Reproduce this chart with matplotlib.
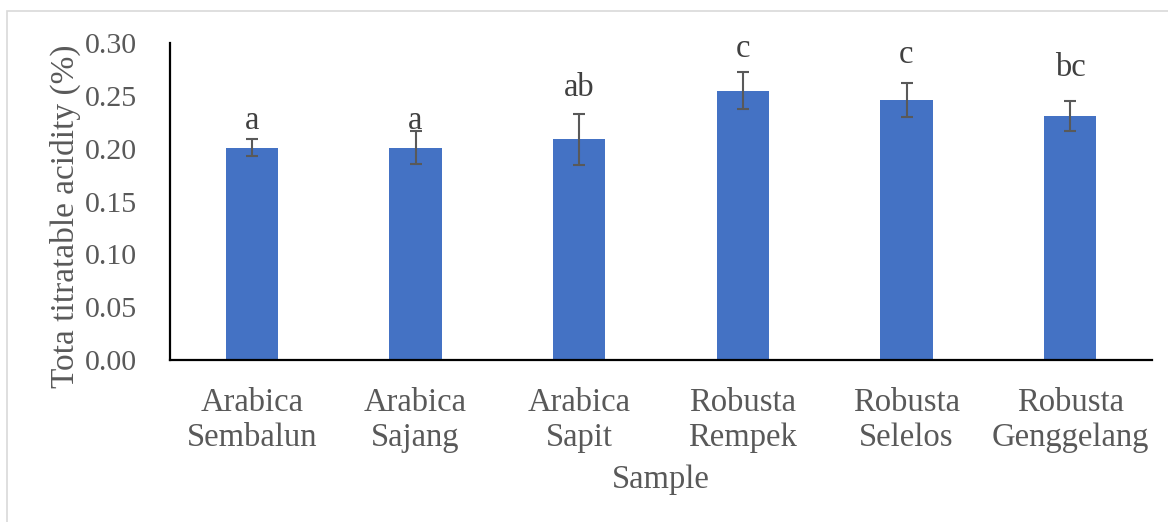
import matplotlib
matplotlib.use("Agg")
import matplotlib.pyplot as plt
from matplotlib.patches import Rectangle

# ---- data ----
categories = ["Arabica\nSembalun", "Arabica\nSajang", "Arabica\nSapit",
              "Robusta\nRempek", "Robusta\nSelelos", "Robusta\nGenggelang"]
acidity = [0.201, 0.201, 0.209, 0.255, 0.246, 0.231]
sd = [0.008, 0.0155, 0.024, 0.0175, 0.016, 0.0145]
letters = ["a", "a", "ab", "c", "c", "bc"]
y_ticks = [0.00, 0.05, 0.10, 0.15, 0.20, 0.25, 0.30]

# ---- layout (letter baseline heights, data units) ----
letter_y = [0.2186, 0.2186, 0.250, 0.2867, 0.281, 0.2688]

plt.rcParams['font.family'] = ['Liberation Serif', 'DejaVu Serif']
text_color = "#595959"

fig = plt.figure(figsize=(11.68, 5.22), dpi=100)
ax = fig.add_axes([170/1168, 1 - 360/522, (1152-170)/1168, (360-43)/522])

# light border of the chart area
fig.patches.append(Rectangle((7/1168, -0.1), 1.2, 1 - 11/522 + 0.1,
                             transform=fig.transFigure, fill=False,
                             edgecolor="#d9d9d9", linewidth=1.2))

x = list(range(len(categories)))
ax.bar(x, acidity, width=0.32, color="#4472C4", zorder=2)
ax.errorbar(x, acidity, yerr=sd, fmt="none", ecolor="#595959",
            elinewidth=1.5, capsize=4.5, capthick=1.5, zorder=3)

for xi, lab, yy in zip(x, letters, letter_y):
    ax.text(xi, yy, lab, ha="center", va="baseline", fontsize=23.5,
            color="#404040")

ax.set_xlim(-0.5, len(categories) - 0.5)
ax.set_ylim(0, 0.30)
ax.set_yticks(y_ticks)
ax.set_yticklabels([f"{v:.2f}" for v in y_ticks])
ax.set_xticks(x)
ax.set_xticklabels(categories, linespacing=1.18, fontsize=23.5)

ax.tick_params(axis="both", length=0, colors=text_color)
ax.tick_params(axis="y", pad=24, labelsize=21.5)
ax.tick_params(axis="x", pad=20)

for s in ["top", "right"]:
    ax.spines[s].set_visible(False)
for s in ["left", "bottom"]:
    ax.spines[s].set_color("black")
    ax.spines[s].set_linewidth(1.6)

ax.set_ylabel("Tota titratable acidity (%)", fontsize=24, color=text_color)
ax.yaxis.set_label_coords(-0.091, 0.455)
ax.set_xlabel("Sample", fontsize=23.5, color=text_color, labelpad=8)

fig.savefig("out.png", dpi=100)
